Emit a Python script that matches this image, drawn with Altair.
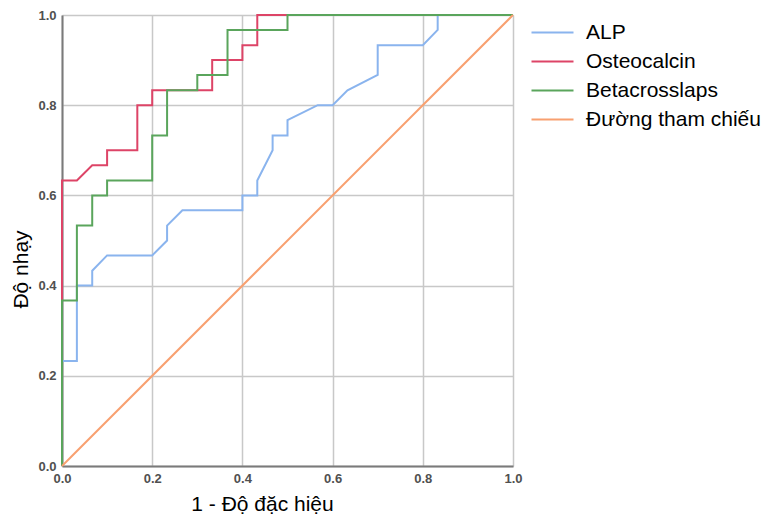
import altair as alt
import pandas as pd

series_names = ["ALP", "Osteocalcin", "Betacrosslaps", "Đường tham chiếu"]
series_colors = ["#8ab4ee", "#dd4467", "#5aa55c", "#f8a070"]

alp_fpr = [0.0, 0.0, 0.033, 0.033, 0.067, 0.067, 0.1, 0.2, 0.233, 0.233, 0.267, 0.4, 0.4, 0.433,
           0.433, 0.467, 0.467, 0.5, 0.5, 0.567, 0.6, 0.633, 0.7, 0.7, 0.8, 0.833, 0.833, 1.0]
alp_tpr = [0.0, 0.233, 0.233, 0.4, 0.4, 0.433, 0.467, 0.467, 0.5, 0.533, 0.567, 0.567, 0.6, 0.6,
           0.633, 0.7, 0.733, 0.733, 0.767, 0.8, 0.8, 0.833, 0.867, 0.933, 0.933, 0.967, 1.0, 1.0]

osteo_fpr = [0.0, 0.0, 0.033, 0.067, 0.1, 0.1, 0.167, 0.167, 0.2, 0.2, 0.333, 0.333, 0.4, 0.4,
             0.433, 0.433, 1.0]
osteo_tpr = [0.0, 0.633, 0.633, 0.667, 0.667, 0.7, 0.7, 0.8, 0.8, 0.833, 0.833, 0.9, 0.9, 0.933,
             0.933, 1.0, 1.0]

beta_fpr = [0.0, 0.0, 0.033, 0.033, 0.067, 0.067, 0.1, 0.1, 0.2, 0.2, 0.233, 0.233, 0.3, 0.3,
            0.367, 0.367, 0.5, 0.5, 1.0]
beta_tpr = [0.0, 0.367, 0.367, 0.533, 0.533, 0.6, 0.6, 0.633, 0.633, 0.733, 0.733, 0.833, 0.833,
            0.867, 0.867, 0.967, 0.967, 1.0, 1.0]

ref_fpr = [0.0, 1.0]
ref_tpr = [0.0, 1.0]

tick_values = [0.0, 0.2, 0.4, 0.6, 0.8, 1.0]

rows = []
for name, xs, ys in [
    (series_names[0], alp_fpr, alp_tpr),
    (series_names[1], osteo_fpr, osteo_tpr),
    (series_names[2], beta_fpr, beta_tpr),
    (series_names[3], ref_fpr, ref_tpr),
]:
    for i, (xv, yv) in enumerate(zip(xs, ys)):
        rows.append({"series": name, "fpr": xv, "tpr": yv, "idx": i})
df = pd.DataFrame(rows)

FONT = "Liberation Sans"

chart = alt.Chart(df).mark_line(strokeWidth=2).encode(
    x=alt.X(
        "fpr:Q",
        scale=alt.Scale(domain=[0, 1], nice=False),
        axis=alt.Axis(
            values=tick_values, format=".1f", title="1 - Độ đặc hiệu",
            labelFlush=False, labelOverlap=False, labelPadding=6,
            titleX=200, titleY=38, titleAlign="center", titleBaseline="middle",
        ),
    ),
    y=alt.Y(
        "tpr:Q",
        scale=alt.Scale(domain=[0, 1], nice=False),
        axis=alt.Axis(
            values=tick_values, format=".1f", title="Độ nhạy",
            labelOverlap=False, labelPadding=6,
            titleX=-41, titleY=254, titleAlign="center", titleBaseline="middle", titleAngle=270,
        ),
    ),
    color=alt.Color(
        "series:N",
        scale=alt.Scale(domain=series_names, range=series_colors),
        sort=series_names,
        legend=alt.Legend(
            title=None, orient="none", legendX=479, legendY=6, padding=0,
            symbolType="M-2,0H2", symbolSize=441, symbolStrokeWidth=2,
            labelOffset=22, rowPadding=7, labelFontSize=21, labelFont=FONT,
            labelColor="#000000", labelLimit=300,
        ),
    ),
    order=alt.Order("idx:Q"),
).properties(
    width=451, height=451,
    autosize=alt.AutoSizeParams(type="none"),
    padding={"left": 54, "top": 7, "right": 254, "bottom": 53},
).configure_view(
    stroke="transparent"
).configure_axis(
    labelFont=FONT, labelFontSize=13, labelColor="#505050", labelFontWeight="bold",
    titleFont=FONT, titleFontSize=21, titleFontWeight="normal", titleColor="#000000",
    ticks=False, domainColor="#7a7a7a", domainWidth=2,
    gridColor="#c8c8c8", gridWidth=1.5,
)

chart.save("out.html", embed_options={"renderer": "svg", "actions": False})
